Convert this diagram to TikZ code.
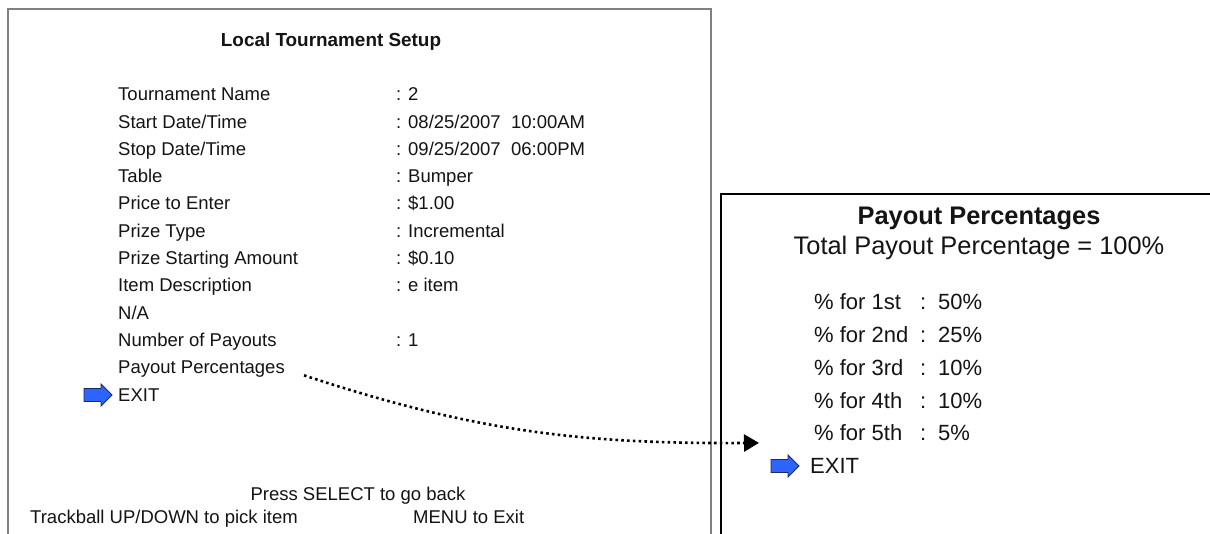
\documentclass[tikz,border=0pt]{standalone}
\usepackage{fontspec}
\setmainfont{Liberation Sans}
\usetikzlibrary{arrows.meta,calc}
\definecolor{framegray}{RGB}{128,128,128}
\definecolor{txt}{RGB}{20,20,20}
\definecolor{iconblue}{RGB}{45,100,255}
\definecolor{iconedge}{RGB}{30,40,90}
\tikzset{
  small/.style={font=\fontsize{18.5}{22}\selectfont, text=txt, inner sep=0pt, anchor=base west},
  smalltitle/.style={font=\fontsize{18.9}{22}\selectfont\bfseries, text=txt, inner sep=0pt, anchor=base},
  medium/.style={font=\fontsize{22}{26}\selectfont, text=txt, inner sep=0pt, anchor=base west},
  largetitle/.style={font=\fontsize{25.4}{30}\selectfont\bfseries, text=txt, inner sep=0pt, anchor=base},
  largecenter/.style={font=\fontsize{25.4}{30}\selectfont, text=txt, inner sep=0pt, anchor=base},
  pointer/.pic={
    \fill[iconblue, draw=iconedge, line width=0.8pt]
      (0,-6.5) -- (17,-6.5) -- (17,-11) -- (28,0) -- (17,11) -- (17,6.5) -- (0,6.5) -- cycle;
  },
  link/.style={line width=2.6pt, dash pattern=on 2.6pt off 3.2pt, -{Triangle[length=15pt,width=17pt]}}
}
\begin{document}
\begin{tikzpicture}[x=1pt,y=-1pt]
\useasboundingbox (0,0) rectangle (1210,534);
\fill[white] (0,0) rectangle (1210,534);

% setup screen frame
\draw[framegray, line width=2pt] (8,540) -- (8,9) -- (711,9) -- (711,540);
% payout screen frame
\draw[black, line width=2.5pt] (721,540) -- (721,194) -- (1215,194);

% setup screen
\node[smalltitle] (title) at (331,47) {Local Tournament Setup};
\foreach \lab/\val [count=\i from 0] in {
  {Tournament Name}/{2},
  {Start Date/Time}/{08/25/2007\ \ 10:00AM},
  {Stop Date/Time}/{09/25/2007\ \ 06:00PM},
  {Table}/{Bumper},
  {Price to Enter}/{\$1.00},
  {Prize Type}/{Incremental},
  {Prize Starting Amount}/{\$0.10},
  {Item Description}/{e item}}{
  \node[small] (lab\i) at (118,{100.8+27.3*\i}) {\lab};
  \node[small] (col\i) at (396,{100.8+27.3*\i}) {:};
  \node[small] (val\i) at (408,{100.8+27.3*\i}) {\val};
}
\node[small] (na) at (118,{100.8+27.3*8}) {N/A};
\node[small] (lab9) at (118,{100.8+27.3*9}) {Number of Payouts};
\node[small] (col9) at (396,{100.8+27.3*9}) {:};
\node[small] (val9) at (408,{100.8+27.3*9}) {1};
\node[small] (payout) at (118,{100.8+27.3*10}) {Payout Percentages};
\node[small] (exitL) at (118,{100.8+27.3*11}) {EXIT};
\pic at (84,395) {pointer};

\node[font=\fontsize{18.5}{22}\selectfont, text=txt, inner sep=0pt, anchor=base] (back) at (358,500.5) {Press SELECT to go back};
\node[small] (pick) at (30,523.5) {Trackball UP/DOWN to pick item};
\node[small] (menu) at (413,523.5) {MENU to Exit};

% payout screen
\node[largetitle] (ptitle) at (979,225) {Payout Percentages};
\node[largecenter] (total) at (979,255) {Total Payout Percentage = 100\%};
\foreach \lab/\val [count=\i from 0] in {1st/50\%, 2nd/25\%, 3rd/10\%, 4th/10\%, 5th/5\%}{
  \node[medium] (p\i) at (814,{310+32.7*\i}) {\% for \lab};
  \node[medium] (pc\i) at (920,{310+32.7*\i}) {:};
  \node[medium] (pv\i) at (938,{310+32.7*\i}) {\val};
}
\node[medium] (exitR) at (810,473) {EXIT};
\begin{scope}[shift={(771,466)}, scale=1.27]
\pic {pointer};
\end{scope}

% link from the menu entry to its screen
\coordinate (from) at ($(payout.east)+(19,6)$);
\coordinate (to) at ($(p4.west)+(-55,10)$);
\draw[link] (from) .. controls +(170,56) and +(-180,1) .. (to);
\end{tikzpicture}
\end{document}
